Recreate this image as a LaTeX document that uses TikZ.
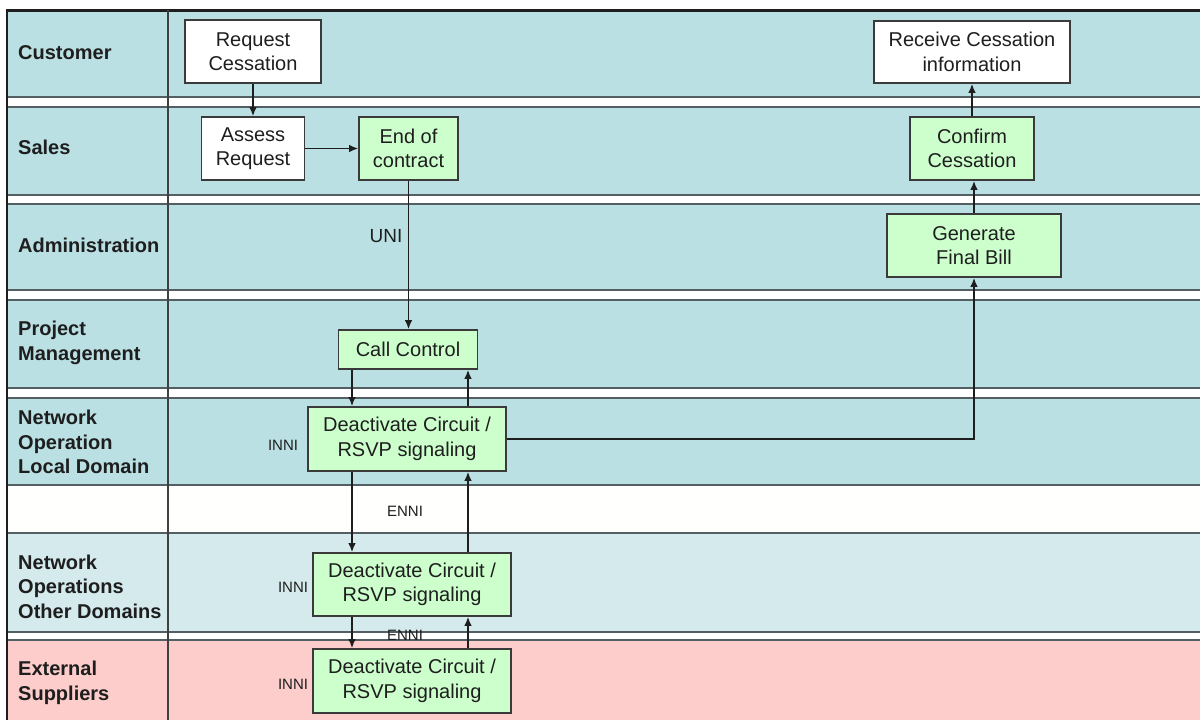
\documentclass[tikz,border=0pt]{standalone}
\usepackage{fontspec}
\setmainfont{Liberation Sans}
\usetikzlibrary{arrows.meta}
\definecolor{lblue}{HTML}{BBE0E3}
\definecolor{lbluel}{HTML}{D4EAEC}
\definecolor{lpink}{HTML}{FDCDCB}
\definecolor{lgap}{HTML}{FFFFFD}
\definecolor{bgreen}{HTML}{CCFFCC}
\definecolor{bdraw}{HTML}{3A3A3A}
\definecolor{lline}{HTML}{535F63}
\definecolor{ink}{HTML}{1E1E1E}
\tikzset{
  % swimlane band, ruled above and below
  lane/.style    = {fill=#1, draw=lline, line width=1.8pt},
  lane/.default  = lblue,
  lname/.style   = {anchor=west, align=left, inner sep=0pt, text=ink,
                    font=\fontsize{20}{24.5}\selectfont\bfseries},
  % activity box, white or green
  act/.style     = {rectangle, draw=bdraw, fill=#1, line width=1.6pt, align=center,
                    inner sep=0pt, text=ink, font=\fontsize{20}{24.5}\selectfont},
  act/.default   = white,
  arr/.style     = {-{Latex[length=9pt,width=7.5pt]}, line width=1.5pt, ink},
  iface/.style   = {font=\fontsize{15}{18}\selectfont, text=ink, inner sep=0pt},
}

\begin{document}
\begin{tikzpicture}[x=1pt,y=-1pt]
\useasboundingbox (0,0) rectangle (1200,720);
% lanes
\draw[lane] (7,11) rectangle (1210,97);
\draw[lane] (7,107) rectangle (1210,195);
\draw[lane] (7,204) rectangle (1210,290);
\draw[lane] (7,300) rectangle (1210,388);
\draw[lane] (7,398) rectangle (1210,485);
\draw[lane=lgap] (7,485) rectangle (1210,533);
\draw[lane=lbluel] (7,533) rectangle (1210,632);
\draw[lane=lpink] (7,640) rectangle (1210,730);
% frame
\draw[line width=3pt, ink] (7,10) -- (1210,10);
\draw[line width=2pt, ink] (7,9) -- (7,720);
\draw[line width=1.8pt, ink!85] (168,10) -- (168,720);
% lane names
\node[lname] (lcust) at (18,53) {Customer};
\node[lname] (lsales) at (18,147) {Sales};
\node[lname] (ladmin) at (18,245) {Administration};
\node[lname] (lpm) at (18,343) {Project\\Management};
\node[lname] (lnol) at (18,442) {Network\\Operation\\Local Domain};
\node[lname] (lnoo) at (18,586.5) {Network\\Operations\\Other Domains};
\node[lname] (lext) at (18,683) {External\\Suppliers};
% activities
\node[act, minimum width=136pt, minimum height=63pt] (reqc) at (253,51.5) {Request\\Cessation};
\node[act, minimum width=103pt, minimum height=63pt] (asses) at (253,148.5) {Assess\\Request};
\node[act=bgreen, minimum width=99pt, minimum height=63pt] (eoc) at (408.5,148.5) {End of\\contract};
\node[act, minimum width=196pt, minimum height=62pt] (recv) at (972,52) {Receive Cessation\\information};
\node[act=bgreen, minimum width=124pt, minimum height=63pt] (confc) at (972,148.5) {Confirm\\Cessation};
\node[act=bgreen, minimum width=174pt, minimum height=63pt] (bill) at (974,245.5) {Generate\\Final Bill};
\node[act=bgreen, minimum width=139pt, minimum height=39pt] (callc) at (408,349.5) {Call Control};
\node[act=bgreen, minimum width=198pt, minimum height=64pt] (deal) at (407,439) {Deactivate Circuit /\\RSVP signaling};
\node[act=bgreen, minimum width=198pt, minimum height=63pt] (deao) at (412,584.5) {Deactivate Circuit /\\RSVP signaling};
\node[act=bgreen, minimum width=198pt, minimum height=64pt] (deae) at (412,681) {Deactivate Circuit /\\RSVP signaling};
% interface labels
\node[iface, font=\fontsize{19}{22}\selectfont] (uni) at (386,236) {UNI};
\node[iface] (innil) at (283,445) {INNI};
\node[iface] (innio) at (293,587) {INNI};
\node[iface] (innie) at (293,684) {INNI};
\node[iface] (ennio) at (405,511) {ENNI};
\node[iface] (ennie) at (405,635) {ENNI};
% flow
\coordinate (dn) at (352,0);
\coordinate (up) at (468,0);
\draw[arr] (reqc) -- (asses);
\draw[arr] (asses) -- (eoc);
\draw[arr] (eoc.south) -- (eoc.south |- callc.north);
\draw[arr] (callc.south -| dn) -- (deal.north -| dn);
\draw[arr] (deal.north -| up) -- (callc.south -| up);
\draw[arr] (deal.south -| dn) -- (deao.north -| dn);
\draw[arr] (deao.north -| up) -- (deal.south -| up);
\draw[arr] (deao.south -| dn) -- (deae.north -| dn);
\draw[arr] (deae.north -| up) -- (deao.south -| up);
\draw[arr] (deal.east) -| (bill.south);
\draw[arr] (bill.north) -- (bill.north |- confc.south);
\draw[arr] (confc) -- (recv);
\end{tikzpicture}
\end{document}
